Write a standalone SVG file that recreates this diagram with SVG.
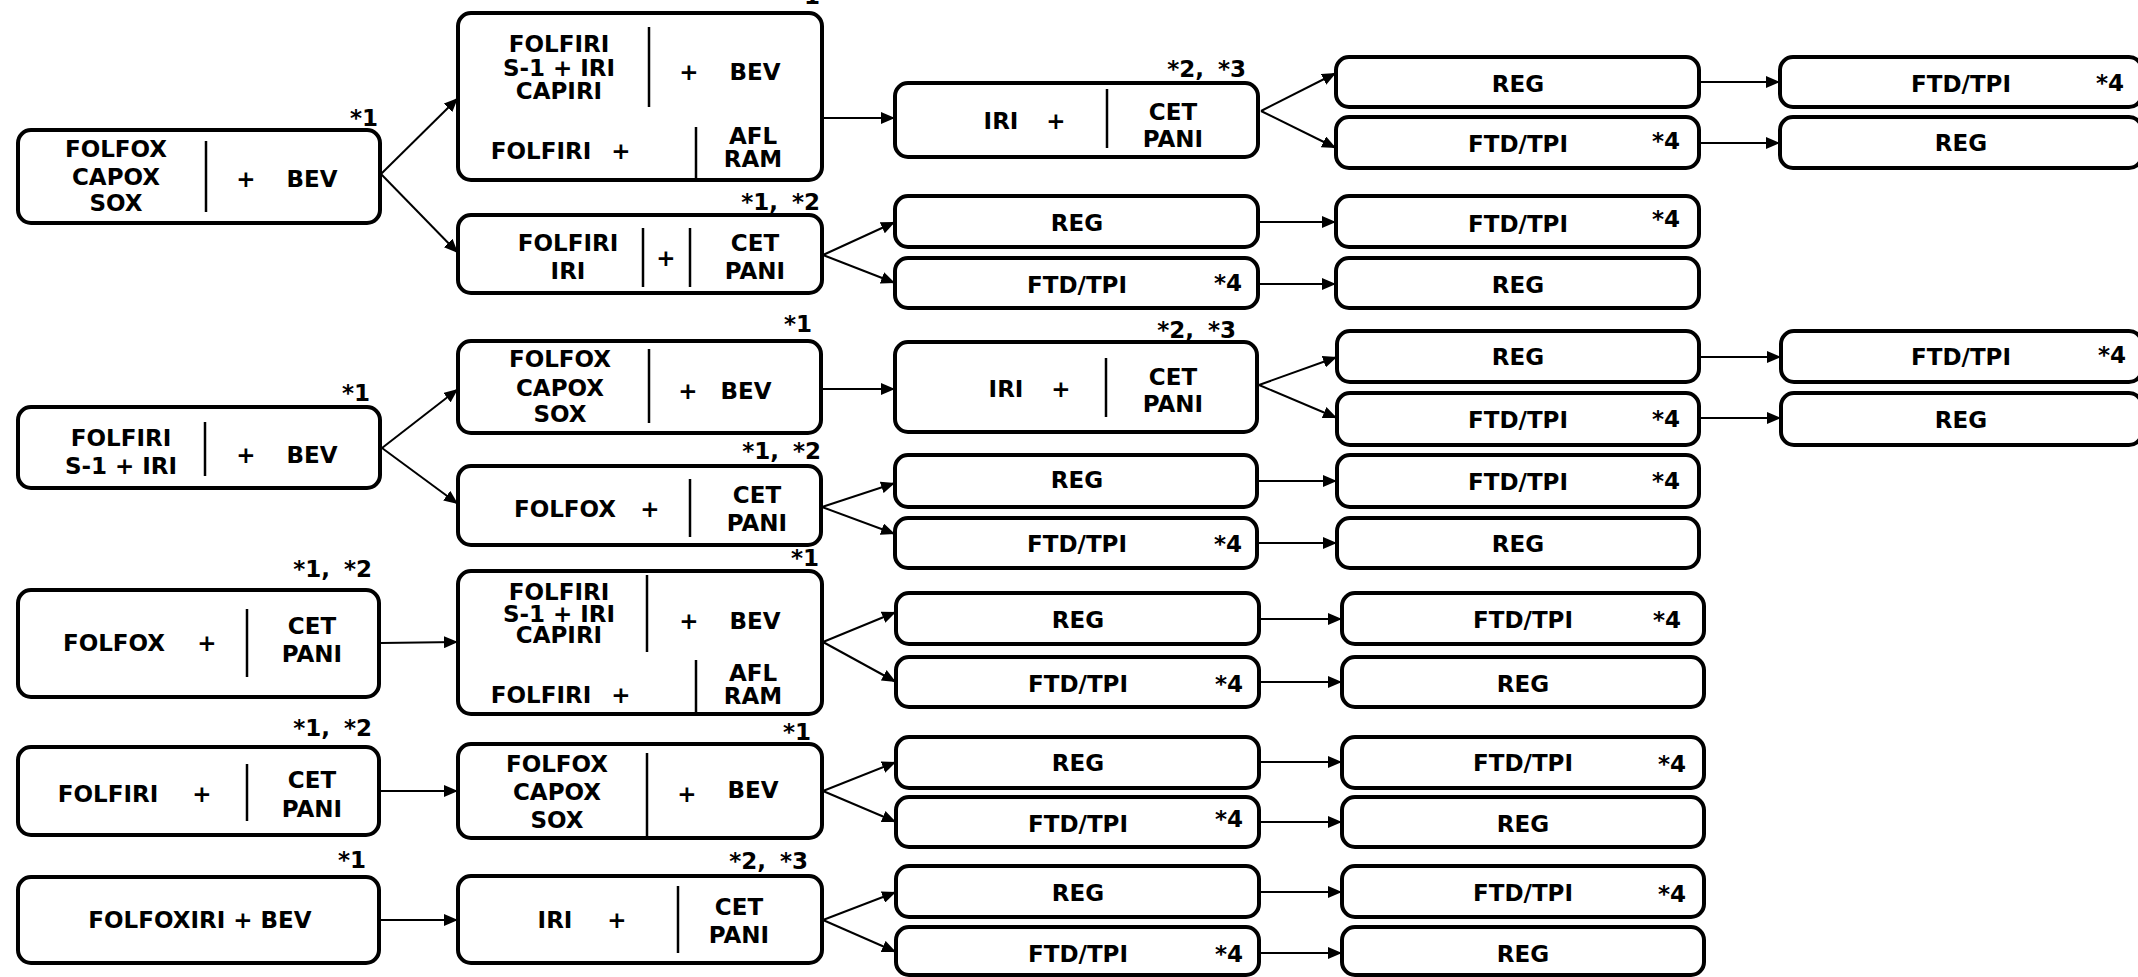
<svg xmlns="http://www.w3.org/2000/svg" width="2138" height="977" viewBox="0 0 2138 977">
<style>
.b{fill:#fff;stroke:#000;stroke-width:4}
.d{stroke:#000;stroke-width:2.5}
text{font-family:"DejaVu Sans",Verdana,sans-serif;font-weight:bold;font-size:23px;fill:#000;text-anchor:middle}
text.n{text-anchor:end;word-spacing:6px}
#connectors line{stroke:#000;stroke-width:2;marker-end:url(#ah)}
</style>
<defs>
<marker id="ah" viewBox="0 0 14 12" markerWidth="14" markerHeight="12" refX="14" refY="6" orient="auto" markerUnits="userSpaceOnUse"><path d="M0,0 L14,6 L0,12 z" fill="#000"/></marker>
</defs>
<rect width="2138" height="977" fill="#fff"/>

<g id="connectors">
<line x1="381" y1="174" x2="458" y2="98"/>
<line x1="381" y1="174" x2="458" y2="253"/>
<line x1="813" y1="118" x2="895" y2="118"/>
<line x1="823" y1="255" x2="895" y2="222"/>
<line x1="823" y1="255" x2="895" y2="283"/>
<line x1="1261" y1="111" x2="1336" y2="73"/>
<line x1="1261" y1="111" x2="1336" y2="148"/>
<line x1="1699" y1="82" x2="1780" y2="82"/>
<line x1="1699" y1="143" x2="1780" y2="143"/>
<line x1="1258" y1="222" x2="1336" y2="222"/>
<line x1="1258" y1="284" x2="1336" y2="284"/>

<line x1="382" y1="448" x2="458" y2="389"/>
<line x1="382" y1="448" x2="458" y2="504"/>
<line x1="821" y1="389" x2="895" y2="389"/>
<line x1="822" y1="507" x2="895" y2="483"/>
<line x1="822" y1="507" x2="895" y2="534"/>
<line x1="1259" y1="385" x2="1337" y2="357"/>
<line x1="1259" y1="385" x2="1337" y2="418"/>
<line x1="1699" y1="357" x2="1781" y2="357"/>
<line x1="1699" y1="418" x2="1781" y2="418"/>
<line x1="1257" y1="481" x2="1337" y2="481"/>
<line x1="1257" y1="543" x2="1337" y2="543"/>

<line x1="381" y1="643" x2="458" y2="642"/>
<line x1="823" y1="642" x2="896" y2="612"/>
<line x1="823" y1="642" x2="896" y2="682"/>
<line x1="1259" y1="619" x2="1342" y2="619"/>
<line x1="1259" y1="682" x2="1342" y2="682"/>

<line x1="380" y1="791" x2="458" y2="791"/>
<line x1="823" y1="791" x2="896" y2="762"/>
<line x1="823" y1="791" x2="896" y2="822"/>
<line x1="1259" y1="762" x2="1342" y2="762"/>
<line x1="1259" y1="822" x2="1342" y2="822"/>

<line x1="380" y1="920" x2="458" y2="920"/>
<line x1="823" y1="920" x2="896" y2="892"/>
<line x1="823" y1="920" x2="896" y2="952"/>
<line x1="1259" y1="892" x2="1342" y2="892"/>
<line x1="1259" y1="953" x2="1342" y2="953"/>
</g>

<!-- Group 1 -->
<g id="A1"><rect class="b" x="18" y="130" width="362" height="93" rx="13"/><line class="d" x1="206" y1="141" x2="206" y2="212"/>
<text x="116" y="157">FOLFOX</text><text x="116" y="185">CAPOX</text><text x="116" y="211">SOX</text><text x="246" y="187">+</text><text x="312" y="187">BEV</text><text class="n" x="378" y="126">*1</text></g>
<g id="B1a"><rect class="b" x="458" y="13" width="364" height="167" rx="13"/><line class="d" x1="649" y1="27" x2="649" y2="107"/><line class="d" x1="696" y1="127" x2="696" y2="179"/>
<text x="559" y="52">FOLFIRI</text><text x="559" y="76">S-1 + IRI</text><text x="559" y="99">CAPIRI</text><text x="689" y="80">+</text><text x="755" y="80">BEV</text>
<text x="541" y="159">FOLFIRI</text><text x="621" y="159">+</text><text x="753" y="144">AFL</text><text x="753" y="167">RAM</text><text class="n" x="820" y="4">*1</text></g>
<g id="B1b"><rect class="b" x="458" y="215" width="364" height="78" rx="13"/><line class="d" x1="643" y1="228" x2="643" y2="287"/><line class="d" x1="690" y1="228" x2="690" y2="287"/>
<text x="568" y="251">FOLFIRI</text><text x="568" y="279">IRI</text><text x="666" y="266">+</text><text x="755" y="251">CET</text><text x="755" y="279">PANI</text><text class="n" x="820" y="210">*1, *2</text></g>
<g id="C1a"><rect class="b" x="895" y="83" width="363" height="74" rx="13"/><line class="d" x1="1107" y1="89" x2="1107" y2="148"/>
<text x="1001" y="129">IRI</text><text x="1056" y="129">+</text><text x="1173" y="120">CET</text><text x="1173" y="147">PANI</text><text class="n" x="1246" y="77">*2, *3</text></g>
<g id="D1a"><rect class="b" x="1336" y="57" width="363" height="50" rx="13"/><text x="1518" y="92">REG</text></g>
<g id="D1b"><rect class="b" x="1336" y="117" width="363" height="51" rx="13"/><text x="1518" y="152">FTD/TPI</text><text class="n" x="1680" y="149">*4</text></g>
<g id="E1a"><rect class="b" x="1780" y="57" width="362" height="50" rx="13"/><text x="1961" y="92">FTD/TPI</text><text class="n" x="2124" y="91">*4</text></g>
<g id="E1b"><rect class="b" x="1780" y="117" width="362" height="51" rx="13"/><text x="1961" y="151">REG</text></g>
<g id="C1b"><rect class="b" x="895" y="196" width="363" height="51" rx="13"/><text x="1077" y="231">REG</text></g>
<g id="C1c"><rect class="b" x="895" y="258" width="363" height="50" rx="13"/><text x="1077" y="293">FTD/TPI</text><text class="n" x="1242" y="291">*4</text></g>
<g id="D1c"><rect class="b" x="1336" y="196" width="363" height="51" rx="13"/><text x="1518" y="232">FTD/TPI</text><text class="n" x="1680" y="227">*4</text></g>
<g id="D1d"><rect class="b" x="1336" y="258" width="363" height="50" rx="13"/><text x="1518" y="293">REG</text></g>

<!-- Group 2 -->
<g id="A2"><rect class="b" x="18" y="407" width="362" height="81" rx="13"/><line class="d" x1="205" y1="422" x2="205" y2="476"/>
<text x="121" y="446">FOLFIRI</text><text x="121" y="474">S-1 + IRI</text><text x="246" y="463">+</text><text x="312" y="463">BEV</text><text class="n" x="370" y="401">*1</text></g>
<g id="B2a"><rect class="b" x="458" y="341" width="363" height="92" rx="13"/><line class="d" x1="649" y1="349" x2="649" y2="423"/>
<text x="560" y="367">FOLFOX</text><text x="560" y="396">CAPOX</text><text x="560" y="422">SOX</text><text x="688" y="399">+</text><text x="746" y="399">BEV</text><text class="n" x="812" y="332">*1</text></g>
<g id="B2b"><rect class="b" x="458" y="466" width="363" height="79" rx="13"/><line class="d" x1="690" y1="479" x2="690" y2="537"/>
<text x="565" y="517">FOLFOX</text><text x="650" y="517">+</text><text x="757" y="503">CET</text><text x="757" y="531">PANI</text><text class="n" x="821" y="459">*1, *2</text></g>
<g id="C2a"><rect class="b" x="895" y="342" width="362" height="90" rx="13"/><line class="d" x1="1106" y1="358" x2="1106" y2="417"/>
<text x="1006" y="397">IRI</text><text x="1061" y="397">+</text><text x="1173" y="385">CET</text><text x="1173" y="412">PANI</text><text class="n" x="1236" y="338">*2, *3</text></g>
<g id="D2a"><rect class="b" x="1337" y="331" width="362" height="51" rx="13"/><text x="1518" y="365">REG</text></g>
<g id="D2b"><rect class="b" x="1337" y="393" width="362" height="52" rx="13"/><text x="1518" y="428">FTD/TPI</text><text class="n" x="1680" y="427">*4</text></g>
<g id="E2a"><rect class="b" x="1781" y="331" width="361" height="51" rx="13"/><text x="1961" y="365">FTD/TPI</text><text class="n" x="2126" y="363">*4</text></g>
<g id="E2b"><rect class="b" x="1781" y="393" width="361" height="52" rx="13"/><text x="1961" y="428">REG</text></g>
<g id="C2b"><rect class="b" x="895" y="455" width="362" height="52" rx="13"/><text x="1077" y="488">REG</text></g>
<g id="C2c"><rect class="b" x="895" y="518" width="362" height="50" rx="13"/><text x="1077" y="552">FTD/TPI</text><text class="n" x="1242" y="552">*4</text></g>
<g id="D2c"><rect class="b" x="1337" y="455" width="362" height="52" rx="13"/><text x="1518" y="490">FTD/TPI</text><text class="n" x="1680" y="489">*4</text></g>
<g id="D2d"><rect class="b" x="1337" y="518" width="362" height="50" rx="13"/><text x="1518" y="552">REG</text></g>

<!-- Group 3 -->
<g id="A3"><rect class="b" x="18" y="590" width="361" height="107" rx="13"/><line class="d" x1="247" y1="609" x2="247" y2="677"/>
<text x="114" y="651">FOLFOX</text><text x="207" y="651">+</text><text x="312" y="634">CET</text><text x="312" y="662">PANI</text><text class="n" x="372" y="577">*1, *2</text></g>
<g id="B3"><rect class="b" x="458" y="571" width="364" height="143" rx="13"/><line class="d" x1="647" y1="575" x2="647" y2="652"/><line class="d" x1="696" y1="660" x2="696" y2="713"/>
<text x="559" y="600">FOLFIRI</text><text x="559" y="622">S-1 + IRI</text><text x="559" y="643">CAPIRI</text><text x="689" y="629">+</text><text x="755" y="629">BEV</text>
<text x="541" y="703">FOLFIRI</text><text x="621" y="703">+</text><text x="753" y="681">AFL</text><text x="753" y="704">RAM</text><text class="n" x="819" y="566">*1</text></g>
<g id="C3a"><rect class="b" x="896" y="593" width="363" height="51" rx="13"/><text x="1078" y="628">REG</text></g>
<g id="C3b"><rect class="b" x="896" y="657" width="363" height="50" rx="13"/><text x="1078" y="692">FTD/TPI</text><text class="n" x="1243" y="692">*4</text></g>
<g id="D3a"><rect class="b" x="1342" y="593" width="362" height="51" rx="13"/><text x="1523" y="628">FTD/TPI</text><text class="n" x="1681" y="628">*4</text></g>
<g id="D3b"><rect class="b" x="1342" y="657" width="362" height="50" rx="13"/><text x="1523" y="692">REG</text></g>

<!-- Group 4 -->
<g id="A4"><rect class="b" x="18" y="747" width="361" height="88" rx="13"/><line class="d" x1="247" y1="764" x2="247" y2="821"/>
<text x="108" y="802">FOLFIRI</text><text x="202" y="802">+</text><text x="312" y="788">CET</text><text x="312" y="817">PANI</text><text class="n" x="372" y="736">*1, *2</text></g>
<g id="B4"><rect class="b" x="458" y="744" width="364" height="94" rx="13"/><line class="d" x1="647" y1="753" x2="647" y2="836"/>
<text x="557" y="772">FOLFOX</text><text x="557" y="800">CAPOX</text><text x="557" y="828">SOX</text><text x="687" y="802">+</text><text x="753" y="798">BEV</text><text class="n" x="811" y="740">*1</text></g>
<g id="C4a"><rect class="b" x="896" y="737" width="363" height="51" rx="13"/><text x="1078" y="771">REG</text></g>
<g id="C4b"><rect class="b" x="896" y="797" width="363" height="50" rx="13"/><text x="1078" y="832">FTD/TPI</text><text class="n" x="1243" y="827">*4</text></g>
<g id="D4a"><rect class="b" x="1342" y="737" width="362" height="51" rx="13"/><text x="1523" y="771">FTD/TPI</text><text class="n" x="1686" y="772">*4</text></g>
<g id="D4b"><rect class="b" x="1342" y="797" width="362" height="50" rx="13"/><text x="1523" y="832">REG</text></g>

<!-- Group 5 -->
<g id="A5"><rect class="b" x="18" y="877" width="361" height="86" rx="13"/>
<text x="200" y="928">FOLFOXIRI + BEV</text><text class="n" x="366" y="868">*1</text></g>
<g id="B5"><rect class="b" x="458" y="876" width="364" height="87" rx="13"/><line class="d" x1="678" y1="886" x2="678" y2="953"/>
<text x="555" y="928">IRI</text><text x="617" y="928">+</text><text x="739" y="915">CET</text><text x="739" y="943">PANI</text><text class="n" x="808" y="869">*2, *3</text></g>
<g id="C5a"><rect class="b" x="896" y="866" width="363" height="51" rx="13"/><text x="1078" y="901">REG</text></g>
<g id="C5b"><rect class="b" x="896" y="927" width="363" height="48" rx="13"/><text x="1078" y="962">FTD/TPI</text><text class="n" x="1243" y="962">*4</text></g>
<g id="D5a"><rect class="b" x="1342" y="866" width="362" height="51" rx="13"/><text x="1523" y="901">FTD/TPI</text><text class="n" x="1686" y="902">*4</text></g>
<g id="D5b"><rect class="b" x="1342" y="927" width="362" height="48" rx="13"/><text x="1523" y="962">REG</text></g>
</svg>
